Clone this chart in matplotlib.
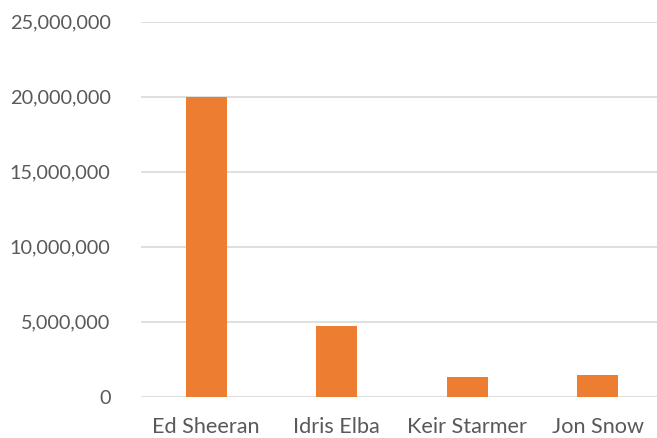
import matplotlib
matplotlib.use("Agg")
import matplotlib.pyplot as plt
from matplotlib.ticker import FuncFormatter

categories = ["Ed Sheeran", "Idris Elba", "Keir Starmer", "Jon Snow"]
values = [20000000, 4700000, 1280000, 1430000]
yticks = [0, 5000000, 10000000, 15000000, 20000000, 25000000]

plt.rcParams['font.family'] = ['Lato', 'DejaVu Sans']

W, H = 657, 438
fig = plt.figure(figsize=(W / 100, H / 100), dpi=100)
left_px, right_px = 141, 657
bottom_px, top_px = 396.5, 21.5
ax = fig.add_axes([left_px / W, (H - bottom_px) / H, (right_px - left_px) / W, (bottom_px - top_px) / H])

x = list(range(len(categories)))
ax.bar(x, values, width=0.314, color="#ED7D31", zorder=3)

ax.set_ylim(0, 25000000)
ax.set_xlim(-0.5, -0.5 + (right_px - left_px) / 130.5)
ax.set_yticks(yticks)
ax.yaxis.set_major_formatter(FuncFormatter(lambda v, p: f"{int(v):,}"))
ax.set_xticks(x)
ax.set_xticklabels(categories)

ax.grid(axis="y", color="#D9D9D9", linewidth=1.2, zorder=0)
for s in ax.spines.values():
    s.set_visible(False)
ax.tick_params(axis="both", length=0, colors="#595959")
ax.tick_params(axis="y", pad=22, labelsize=14.3)
ax.tick_params(axis="x", pad=15, labelsize=15.6)

fig.savefig("out.png", dpi=100)
